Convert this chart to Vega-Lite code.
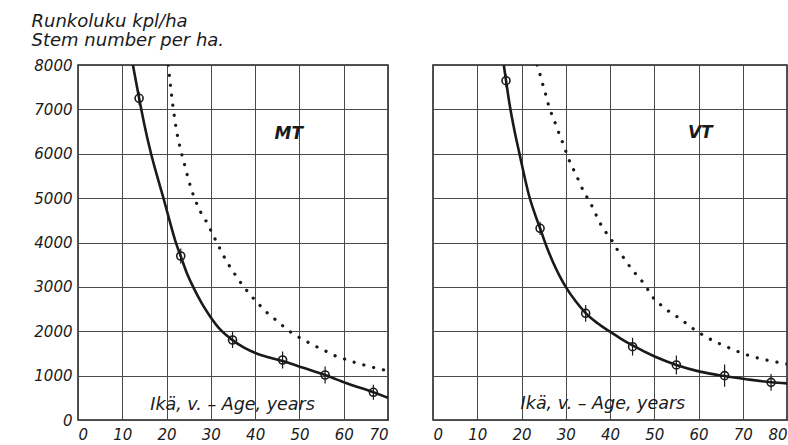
{
  "$schema": "https://vega.github.io/schema/vega-lite/v6.json",
  "background": "white",
  "padding": {"left": 30, "top": 11, "right": 0, "bottom": 0},
  "spacing": 45,
  "bounds": "flush",
  "config": {
    "view": {"stroke": "#1a1a1a", "strokeWidth": 1.5},
    "font": "DejaVu Sans",
    "axis": {
      "labelFont": "DejaVu Sans",
      "labelFontStyle": "italic",
      "labelFontSize": 15,
      "labelColor": "#1a1a1a",
      "ticks": false,
      "domain": false,
      "gridColor": "#4a4a4a",
      "gridWidth": 1,
      "gridOpacity": 1
    }
  },
  "datasets": {
    "mt_fit": [
      {"age": 12.4, "n": 8000}, {"age": 13.8, "n": 7250}, {"age": 15.0, "n": 6650}, {"age": 16.5, "n": 6000},
      {"age": 18.0, "n": 5450}, {"age": 19.3, "n": 5000}, {"age": 20.6, "n": 4520}, {"age": 21.9, "n": 4060},
      {"age": 23.2, "n": 3690}, {"age": 24.5, "n": 3330}, {"age": 26.0, "n": 3000}, {"age": 27.9, "n": 2640},
      {"age": 29.8, "n": 2340}, {"age": 32.1, "n": 2040}, {"age": 34.9, "n": 1800}, {"age": 37.5, "n": 1630},
      {"age": 40.3, "n": 1500}, {"age": 43.2, "n": 1410}, {"age": 46.2, "n": 1330}, {"age": 50.9, "n": 1175},
      {"age": 55.8, "n": 1014}, {"age": 60.7, "n": 826}, {"age": 66.7, "n": 624}, {"age": 70, "n": 500}
    ],
    "mt_ref": [
      {"age": 20.4, "n": 8000}, {"age": 20.8, "n": 7600}, {"age": 21.4, "n": 7100}, {"age": 22.1, "n": 6610},
      {"age": 23.0, "n": 6160}, {"age": 24.0, "n": 5780}, {"age": 25.0, "n": 5400}, {"age": 26.3, "n": 5000},
      {"age": 27.3, "n": 4770}, {"age": 28.4, "n": 4550}, {"age": 29.3, "n": 4430}, {"age": 30.2, "n": 4221},
      {"age": 31.4, "n": 3996}, {"age": 32.4, "n": 3793}, {"age": 33.6, "n": 3568}, {"age": 34.9, "n": 3365},
      {"age": 36.3, "n": 3155}, {"age": 37.9, "n": 2945}, {"age": 39.4, "n": 2765}, {"age": 41.0, "n": 2592},
      {"age": 42.7, "n": 2418}, {"age": 44.5, "n": 2269}, {"age": 46.3, "n": 2118}, {"age": 48.2, "n": 1968},
      {"age": 50.3, "n": 1841}, {"age": 52.4, "n": 1728}, {"age": 54.6, "n": 1615}, {"age": 56.5, "n": 1525},
      {"age": 58.5, "n": 1427}, {"age": 60.9, "n": 1352}, {"age": 63.1, "n": 1277}, {"age": 65.2, "n": 1224},
      {"age": 67.4, "n": 1165}, {"age": 69.7, "n": 1111}, {"age": 70, "n": 1100}
    ],
    "mt_obs": [
      {"age": 13.8, "n": 7250, "lo": 7100, "hi": 7400},
      {"age": 23.2, "n": 3696, "lo": 3526, "hi": 3866},
      {"age": 34.9, "n": 1803, "lo": 1623, "hi": 1983},
      {"age": 46.2, "n": 1352, "lo": 1162, "hi": 1542},
      {"age": 55.8, "n": 1014, "lo": 824, "hi": 1204},
      {"age": 66.7, "n": 624, "lo": 454, "hi": 794}
    ],
    "mt_text": [
      {"age": 47.6, "n": 6440, "label": "MT", "size": 17, "kind": "site"},
      {"age": 34.9, "n": 338, "label": "Ikä, v. – Age, years", "size": 17.5, "kind": "axis"}
    ],
    "vt_fit": [
      {"age": 16.0, "n": 8000}, {"age": 16.5, "n": 7650}, {"age": 17.4, "n": 7060}, {"age": 18.5, "n": 6480},
      {"age": 19.5, "n": 6020}, {"age": 20.6, "n": 5520}, {"age": 21.7, "n": 5060}, {"age": 23.0, "n": 4650},
      {"age": 24.2, "n": 4320}, {"age": 25.7, "n": 3900}, {"age": 27.2, "n": 3540}, {"age": 28.6, "n": 3250},
      {"age": 30.0, "n": 3000}, {"age": 32.2, "n": 2680}, {"age": 34.5, "n": 2410}, {"age": 37.2, "n": 2180},
      {"age": 40.0, "n": 1990}, {"age": 42.5, "n": 1830}, {"age": 45.1, "n": 1680}, {"age": 50.1, "n": 1430},
      {"age": 55.0, "n": 1240}, {"age": 60.3, "n": 1090}, {"age": 65.9, "n": 990}, {"age": 70.8, "n": 920},
      {"age": 76.4, "n": 852}, {"age": 80, "n": 826}
    ],
    "vt_ref": [
      {"age": 23.5, "n": 8000}, {"age": 24.0, "n": 7850}, {"age": 24.7, "n": 7600}, {"age": 25.4, "n": 7362},
      {"age": 26.0, "n": 7137}, {"age": 26.8, "n": 6896}, {"age": 27.8, "n": 6648}, {"age": 28.7, "n": 6400},
      {"age": 29.6, "n": 6175}, {"age": 30.5, "n": 5920}, {"age": 31.5, "n": 5695}, {"age": 32.6, "n": 5469},
      {"age": 33.6, "n": 5244}, {"age": 34.8, "n": 5018}, {"age": 36.2, "n": 4770}, {"age": 37.3, "n": 4523},
      {"age": 38.7, "n": 4282}, {"age": 40.2, "n": 4079}, {"age": 41.6, "n": 3847}, {"age": 43.0, "n": 3666},
      {"age": 44.5, "n": 3455}, {"age": 46.0, "n": 3268}, {"age": 47.9, "n": 3042}, {"age": 49.0, "n": 2869},
      {"age": 50.3, "n": 2689}, {"age": 51.8, "n": 2569}, {"age": 53.1, "n": 2463}, {"age": 54.6, "n": 2366},
      {"age": 56.9, "n": 2201}, {"age": 58.9, "n": 2050}, {"age": 61.0, "n": 1915}, {"age": 63.3, "n": 1788},
      {"age": 65.4, "n": 1690}, {"age": 67.7, "n": 1593}, {"age": 69.9, "n": 1503}, {"age": 72.3, "n": 1427},
      {"age": 74.6, "n": 1368}, {"age": 77.2, "n": 1314}, {"age": 80, "n": 1262}
    ],
    "vt_obs": [
      {"age": 16.5, "n": 7646, "lo": 7496, "hi": 7796},
      {"age": 24.2, "n": 4320, "lo": 4170, "hi": 4470},
      {"age": 34.5, "n": 2404, "lo": 2214, "hi": 2594},
      {"age": 45.1, "n": 1652, "lo": 1452, "hi": 1852},
      {"age": 55.0, "n": 1240, "lo": 1025, "hi": 1455},
      {"age": 65.9, "n": 999, "lo": 749, "hi": 1249},
      {"age": 76.4, "n": 849, "lo": 659, "hi": 1039}
    ],
    "vt_text": [
      {"age": 60.4, "n": 6460, "label": "VT", "size": 17, "kind": "site"},
      {"age": 38.4, "n": 354, "label": "Ikä, v. – Age, years", "size": 17.5, "kind": "axis"}
    ]
  },
  "hconcat": [
    {
      "width": 310,
      "height": 355,
      "encoding": {
        "x": {
          "field": "age", "type": "quantitative",
          "scale": {"domain": [0, 70], "nice": false, "zero": false},
          "axis": {"values": [0, 10, 20, 30, 40, 50, 60, 70], "title": null, "grid": true, "labelPadding": 7, "labelFlush": true, "format": "d"}
        },
        "y": {
          "field": "n", "type": "quantitative",
          "scale": {"domain": [0, 8000], "nice": false},
          "axis": {
            "values": [0, 1000, 2000, 3000, 4000, 5000, 6000, 7000, 8000],
            "format": "d",
            "grid": true, "labelPadding": 6, "labelFlush": false,
            "title": ["Runkoluku kpl/ha", "Stem number per ha."],
            "titleAngle": 0, "titleAlign": "left", "titleBaseline": "top",
            "titleX": -47, "titleY": -53,
            "titleFont": "DejaVu Sans", "titleFontStyle": "italic", "titleFontWeight": "normal",
            "titleFontSize": 18, "titleLineHeight": 19, "titleColor": "#1a1a1a"
          }
        }
      },
      "layer": [
        {"data": {"name": "mt_ref"}, "mark": {"type": "line", "interpolate": "monotone", "color": "#1a1a1a", "strokeWidth": 3.2, "strokeDash": [0.1, 10], "strokeCap": "round", "clip": true}},
        {"data": {"name": "mt_fit"}, "mark": {"type": "line", "interpolate": "monotone", "color": "#1a1a1a", "strokeWidth": 2.6, "clip": true}},
        {"data": {"name": "mt_obs"}, "mark": {"type": "rule", "color": "#1a1a1a", "strokeWidth": 1.2},
          "encoding": {"y": {"field": "lo", "type": "quantitative"}, "y2": {"field": "hi"}}},
        {"data": {"name": "mt_obs"}, "mark": {"type": "point", "shape": "circle", "filled": false, "size": 64, "strokeWidth": 1.6, "color": "#1a1a1a", "opacity": 1}},
        {"data": {"name": "mt_text"}, "transform": [{"filter": "datum.kind === 'axis'"}],
          "mark": {"type": "text", "font": "DejaVu Sans", "fontStyle": "italic", "color": "#1a1a1a", "align": "center", "baseline": "middle"},
          "encoding": {"text": {"field": "label"}, "size": {"field": "size", "type": "quantitative", "scale": null}}},
        {"data": {"name": "mt_text"}, "transform": [{"filter": "datum.kind === 'site'"}],
          "mark": {"type": "text", "font": "DejaVu Sans", "fontStyle": "italic", "fontWeight": "bold", "color": "#1a1a1a", "align": "center", "baseline": "middle"},
          "encoding": {"text": {"field": "label"}, "size": {"field": "size", "type": "quantitative", "scale": null}}}
      ]
    },
    {
      "width": 354,
      "height": 355,
      "encoding": {
        "x": {
          "field": "age", "type": "quantitative",
          "scale": {"domain": [0, 80], "nice": false, "zero": false},
          "axis": {"values": [0, 10, 20, 30, 40, 50, 60, 70, 80], "title": null, "grid": true, "labelPadding": 7, "labelFlush": true, "format": "d"}
        },
        "y": {
          "field": "n", "type": "quantitative",
          "scale": {"domain": [0, 8000], "nice": false},
          "axis": {"values": [0, 1000, 2000, 3000, 4000, 5000, 6000, 7000, 8000], "grid": true, "labels": false, "title": null}
        }
      },
      "layer": [
        {"data": {"name": "vt_ref"}, "mark": {"type": "line", "interpolate": "monotone", "color": "#1a1a1a", "strokeWidth": 3.2, "strokeDash": [0.1, 10], "strokeCap": "round", "clip": true}},
        {"data": {"name": "vt_fit"}, "mark": {"type": "line", "interpolate": "monotone", "color": "#1a1a1a", "strokeWidth": 2.6, "clip": true}},
        {"data": {"name": "vt_obs"}, "mark": {"type": "rule", "color": "#1a1a1a", "strokeWidth": 1.2},
          "encoding": {"y": {"field": "lo", "type": "quantitative"}, "y2": {"field": "hi"}}},
        {"data": {"name": "vt_obs"}, "mark": {"type": "point", "shape": "circle", "filled": false, "size": 64, "strokeWidth": 1.6, "color": "#1a1a1a", "opacity": 1}},
        {"data": {"name": "vt_text"}, "transform": [{"filter": "datum.kind === 'axis'"}],
          "mark": {"type": "text", "font": "DejaVu Sans", "fontStyle": "italic", "color": "#1a1a1a", "align": "center", "baseline": "middle"},
          "encoding": {"text": {"field": "label"}, "size": {"field": "size", "type": "quantitative", "scale": null}}},
        {"data": {"name": "vt_text"}, "transform": [{"filter": "datum.kind === 'site'"}],
          "mark": {"type": "text", "font": "DejaVu Sans", "fontStyle": "italic", "fontWeight": "bold", "color": "#1a1a1a", "align": "center", "baseline": "middle"},
          "encoding": {"text": {"field": "label"}, "size": {"field": "size", "type": "quantitative", "scale": null}}}
      ]
    }
  ]
}
